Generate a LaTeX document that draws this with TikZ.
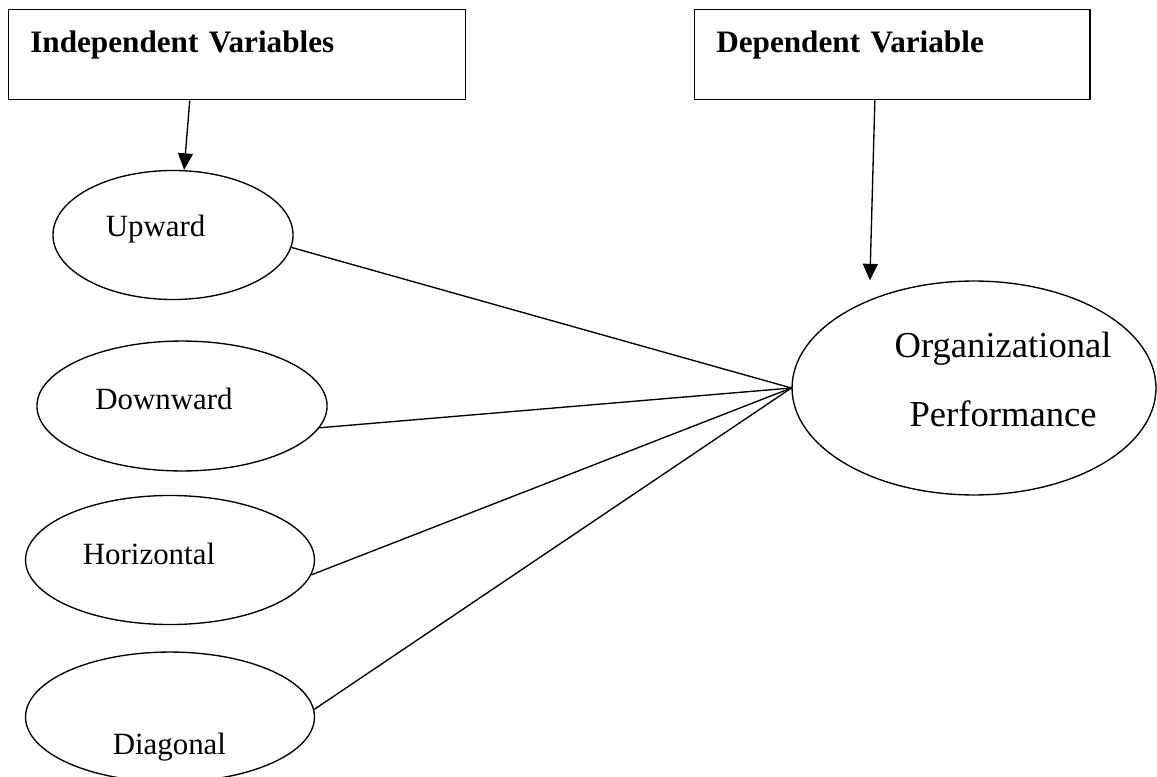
\documentclass[tikz,border=0pt]{standalone}
\usepackage{fontspec}
\setmainfont{Liberation Serif}
\usetikzlibrary{shapes,arrows.meta,positioning,calc}

\tikzset{
    varbox/.style={rectangle, draw, line width=0.45pt, anchor=north west, inner xsep=7.2pt, inner ysep=0pt, align=left, text height=14.3pt, text depth=15.7pt, font=\fontsize{10.4}{12.5}\selectfont\bfseries},
    dimnode/.style={ellipse, draw, line width=0.45pt, inner sep=0pt},
    dimtext/.style={anchor=base, font=\fontsize{10.3}{12.4}\selectfont},
    orgtext/.style={align=center, font=\fontsize{12.2}{23}\selectfont},
    link/.style={line width=0.45pt},
    pointer/.style={line width=0.45pt, -{Triangle[width=5pt,length=5.5pt]}}
}

\begin{document}
\begin{tikzpicture}[x=0.3333pt, y=-0.3333pt]
    \useasboundingbox (0,0) rectangle (1157,776);

    % Headers
    \node (indep) [varbox, text width=137.9pt] at (8,9) {Independent Variables};
    \node (dep) [varbox, text width=117.3pt] at (694,9) {Dependent Variable};

    % Communication flows
    \node (up) [dimnode, minimum width=80pt, minimum height=43pt, label={[dimtext, xshift=-5.8pt, yshift=2pt]center:Upward}] at (173,235) {};
    \node (down) [dimnode, minimum width=96.7pt, minimum height=43.3pt, label={[dimtext, xshift=-6pt, yshift=2.3pt]center:Downward}] at (182,406) {};
    \node (horiz) [dimnode, minimum width=96.3pt, minimum height=43pt, label={[dimtext, xshift=-7pt, yshift=2pt]center:Horizontal}] at (170,560) {};
    \node (diag) [dimnode, minimum width=96.3pt, minimum height=43.3pt, label={[dimtext, xshift=-0.2pt, yshift=-10pt]center:Diagonal}] at (170,717) {};

    % Outcome
    \node (org) [dimnode, minimum width=121.3pt, minimum height=71.3pt, label={[orgtext, xshift=9.7pt, yshift=2.7pt]center:Organizational\\Performance}] at (974,388) {};

    % Arrows
    \draw [pointer] ([xshift=-15.8pt]indep.south) -- ([xshift=3.7pt]up.north);
    \draw [pointer] ([xshift=-5.8pt]dep.south) -- ([xshift=-34.7pt]org.north);

    % Links
    \draw [link] (up.-6) -- (org.west);
    \draw [link] (down.-9) -- (org.west);
    \draw [link] (horiz.-6) -- (org.west);
    \draw [link] (diag.3) -- (org.west);
\end{tikzpicture}
\end{document}
